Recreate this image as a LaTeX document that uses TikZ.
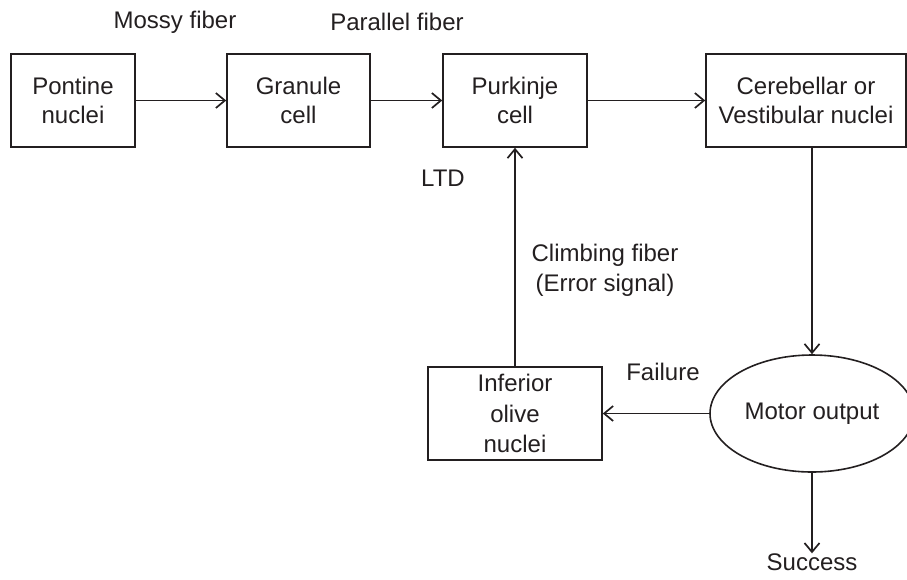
\documentclass[tikz,border=0pt]{standalone}
\usepackage{fontspec}
\setmainfont{Liberation Sans}
\usetikzlibrary{arrows.meta,shapes.geometric}
\definecolor{ink}{RGB}{35,31,32}
\begin{document}
\begin{tikzpicture}[x=1pt,y=-1pt,
  font=\fontsize{24}{28.5}\selectfont,
  box/.style={draw=ink, line width=1.6pt, inner sep=0pt, align=center, text=ink},
  ell/.style={ellipse, draw=ink, line width=1.6pt, inner sep=0pt, text=ink},
  arr/.style={draw=ink, line width=1.7pt, -{Straight Barb[length=9pt,width=15pt,line width=1.7pt]}},
  lbl/.style={inner sep=0pt, align=center, text=ink}]
\useasboundingbox (0,0) rectangle (907,579);
\node[box, minimum width=124, minimum height=93] (pont) at (73,100.5) {Pontine\\nuclei};
\node[box, minimum width=143, minimum height=93] (gran) at (298.5,100.5) {Granule\\cell};
\node[box, minimum width=144, minimum height=93] (purk) at (515,100.5) {Purkinje\\cell};
\node[box, minimum width=200, minimum height=93] (cere) at (806,100.5) {Cerebellar or\\Vestibular nuclei};
\node[box, minimum width=174, minimum height=93, font=\fontsize{24}{30.5}\selectfont] (olive) at (515,413.5) {Inferior\\olive\\nuclei};
\node[ell, minimum width=204, minimum height=117] (mot) at (812,413.5) {Motor output};
\node[lbl] (succ) at (812,562) {Success};
\node[lbl] (mossy) at (175,22) {Mossy fiber};
\node[lbl] (par) at (397,22) {Parallel fiber};
\node[lbl] (ltd) at (443,178) {LTD};
\node[lbl, font=\fontsize{24}{30}\selectfont] (climb) at (605,270) {Climbing fiber\\(Error signal)};
\node[lbl] (fail) at (663,372) {Failure};
\draw[arr] (pont) -- (gran);
\draw[arr] (gran) -- (purk);
\draw[arr] (purk) -- (cere);
\draw[arr] (cere.south -| mot.north) -- (mot.north);
\draw[arr] (mot) -- (olive);
\draw[arr] (olive) -- (purk);
\draw[arr] (mot.south) -- (succ.north);
\end{tikzpicture}
\end{document}
